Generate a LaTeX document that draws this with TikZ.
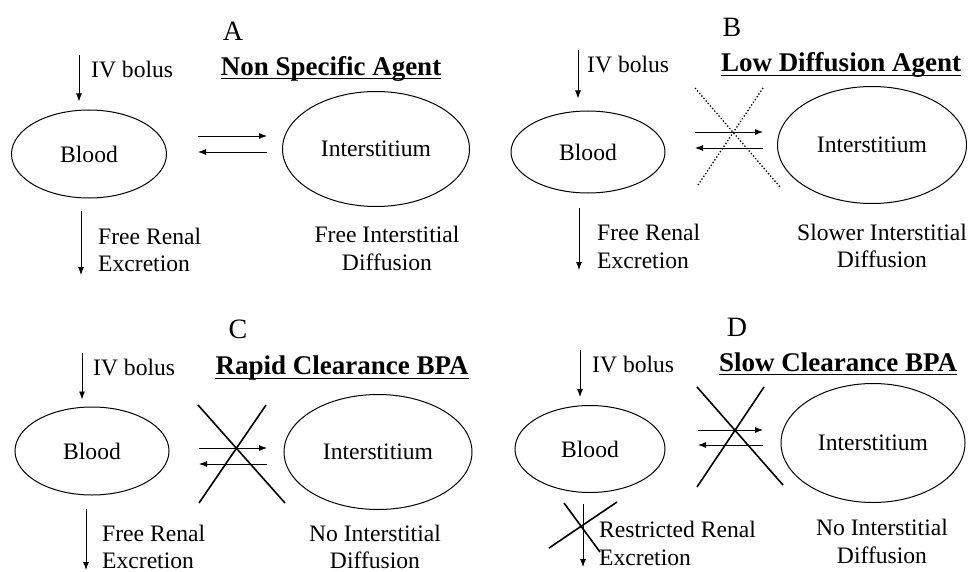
\documentclass[tikz,border=0pt]{standalone}
\usepackage{fontspec}
\setmainfont{Liberation Serif}
\usetikzlibrary{shapes.geometric,arrows.meta}

\tikzset{
  comp/.style={draw, ellipse, line width=1pt, inner sep=0pt, font=\fontsize{23.6}{27}\selectfont},
  lbl/.style={inner sep=0pt, font=\fontsize{23.6}{27}\selectfont},
  ttl/.style={inner sep=0pt, anchor=base, font=\bfseries\fontsize{27}{30}\selectfont},
  letter/.style={inner sep=0pt, font=\fontsize{28}{30}\selectfont},
  arr/.style={line width=0.9pt, -{Latex[length=8pt,width=6pt]}},
  ulin/.style={line width=1pt},
  cross/.style={line width=1.6pt},
  dotcross/.style={line width=1.3pt, dotted}
}

\begin{document}
\begin{tikzpicture}[x=1pt,y=-1pt]
  \useasboundingbox (0,0) rectangle (973,572);

  % A: non specific agent
  \node[letter] (aLetter) at (233,31) {A};
  \node[ttl] (aTitle) at (331,76) {Non Specific Agent};
  \draw[ulin] ([yshift=-3pt]aTitle.base west) -- ([yshift=-3pt]aTitle.base east);
  \node[comp, minimum width=155pt, minimum height=88pt] (aBlood) at (89,154) {Blood};
  \node[comp, minimum width=187pt, minimum height=115pt] (aInter) at (376,149) {Interstitium};
  \node[lbl, anchor=base west] (aIVtxt) at (91,78) {IV bolus};
  \coordinate (aIV) at (79,55);
  \draw[arr, shorten >=8pt] (aIV) -- (aIV |- aBlood.north);
  \coordinate (aFwdS) at (198,136); \coordinate (aFwdE) at (267,136);
  \coordinate (aBckS) at (267,152); \coordinate (aBckE) at (198,152);
  \draw[arr] (aFwdS) -- (aFwdE);
  \draw[arr] (aBckS) -- (aBckE);
  \coordinate (aOut) at (81,275);
  \draw[arr] ([xshift=-8pt,yshift=-12pt]aBlood.south) -- (aOut);
  \node[lbl, anchor=base west] (aRenal) at (98,244) {Free Renal};
  \node[lbl, anchor=base west] (aExcr) at (98,271) {Excretion};
  \node[lbl, anchor=base] (aFree) at (387,242) {Free Interstitial};
  \node[lbl, anchor=base] (aDiff) at (387,270) {Diffusion};

  % B: low diffusion agent
  \node[letter] (bLetter) at (732,27) {B};
  \node[ttl] (bTitle) at (841,72) {Low Diffusion Agent};
  \draw[ulin] ([yshift=-4pt]bTitle.base west) -- ([yshift=-4pt]bTitle.base east);
  \node[comp, minimum width=154pt, minimum height=82pt] (bBlood) at (588,152) {Blood};
  \node[comp, minimum width=189pt, minimum height=117pt] (bInter) at (872,145) {Interstitium};
  \node[lbl, anchor=base west] (bIVtxt) at (587,73) {IV bolus};
  \coordinate (bIV) at (578,50);
  \draw[arr, shorten >=12pt] (bIV) -- (bIV |- bBlood.north);
  \coordinate (bFwdS) at (695,132); \coordinate (bFwdE) at (763,132);
  \coordinate (bBckS) at (763,148); \coordinate (bBckE) at (695,148);
  \draw[arr] (bFwdS) -- (bFwdE);
  \draw[arr] (bBckS) -- (bBckE);
  \coordinate (bX1) at (695,88); \coordinate (bX2) at (780,187);
  \coordinate (bX3) at (763,88); \coordinate (bX4) at (698,185);
  \draw[dotcross] (bX1) -- (bX2);
  \draw[dotcross] (bX3) -- (bX4);
  \coordinate (bOut) at (579,270);
  \draw[arr] ([xshift=-9pt,yshift=-14pt]bBlood.south) -- (bOut);
  \node[lbl, anchor=base west] (bRenal) at (597,240) {Free Renal};
  \node[lbl, anchor=base west] (bExcr) at (597,268) {Excretion};
  \node[lbl, anchor=base] (bSlow) at (882,240) {Slower Interstitial};
  \node[lbl, anchor=base] (bDiff) at (882,267) {Diffusion};

  % C: rapid clearance BPA
  \node[letter] (cLetter) at (238,329) {C};
  \node[ttl] (cTitle) at (342,374) {Rapid Clearance BPA};
  \draw[ulin] ([yshift=-4pt]cTitle.base west) -- ([yshift=-4pt]cTitle.base east);
  \node[comp, minimum width=154pt, minimum height=88pt] (cBlood) at (92,451) {Blood};
  \node[comp, minimum width=188pt, minimum height=115pt] (cInter) at (378,452) {Interstitium};
  \node[lbl, anchor=base west] (cIVtxt) at (93,375) {IV bolus};
  \coordinate (cIV) at (82,353);
  \draw[arr, shorten >=7pt] (cIV) -- (cIV |- cBlood.north);
  \coordinate (cFwdS) at (199,448); \coordinate (cFwdE) at (267,448);
  \coordinate (cBckS) at (267,464); \coordinate (cBckE) at (199,464);
  \draw[arr] (cFwdS) -- (cFwdE);
  \draw[arr] (cBckS) -- (cBckE);
  \coordinate (cX1) at (198,405); \coordinate (cX2) at (285,503);
  \coordinate (cX3) at (266,405); \coordinate (cX4) at (199,503);
  \draw[cross] (cX1) -- (cX2);
  \draw[cross] (cX3) -- (cX4);
  \coordinate (cOut) at (86,570);
  \draw[arr] ([xshift=-6pt,yshift=-13pt]cBlood.south) -- (cOut);
  \node[lbl, anchor=base west] (cRenal) at (102,541) {Free Renal};
  \node[lbl, anchor=base west] (cExcr) at (102,568) {Excretion};
  \node[lbl, anchor=base] (cNo) at (375,541) {No Interstitial};
  \node[lbl, anchor=base] (cDiff) at (375,568) {Diffusion};

  % D: slow clearance BPA
  \node[letter] (dLetter) at (737,327) {D};
  \node[ttl] (dTitle) at (838,371) {Slow Clearance BPA};
  \draw[ulin] ([yshift=-3pt]dTitle.base west) -- ([yshift=-3pt]dTitle.base east);
  \node[comp, minimum width=150pt, minimum height=87pt] (dBlood) at (590,449) {Blood};
  \node[comp, minimum width=184pt, minimum height=119pt] (dInter) at (873,443) {Interstitium};
  \node[lbl, anchor=base west] (dIVtxt) at (592,372) {IV bolus};
  \coordinate (dIV) at (580,350);
  \draw[arr, shorten >=8pt] (dIV) -- (dIV |- dBlood.north);
  \coordinate (dFwdS) at (698,430); \coordinate (dFwdE) at (763,430);
  \coordinate (dBckS) at (763,445); \coordinate (dBckE) at (698,445);
  \draw[arr] (dFwdS) -- (dFwdE);
  \draw[arr] (dBckS) -- (dBckE);
  \coordinate (dX1) at (697,387); \coordinate (dX2) at (783,485);
  \coordinate (dX3) at (764,387); \coordinate (dX4) at (697,487);
  \draw[cross] (dX1) -- (dX2);
  \draw[cross] (dX3) -- (dX4);
  \coordinate (dOut) at (583,567);
  \draw[arr] ([xshift=-7pt,yshift=-11pt]dBlood.south) -- (dOut);
  \coordinate (dY1) at (564,503); \coordinate (dY2) at (600,552);
  \coordinate (dY3) at (617,502); \coordinate (dY4) at (549,548);
  \draw[cross] (dY1) -- (dY2);
  \draw[cross] (dY3) -- (dY4);
  \node[lbl, anchor=base west] (dRenal) at (599,537) {Restricted Renal};
  \node[lbl, anchor=base west] (dExcr) at (599,565) {Excretion};
  \node[lbl, anchor=base] (dNo) at (882,535) {No Interstitial};
  \node[lbl, anchor=base] (dDiff) at (882,563) {Diffusion};
\end{tikzpicture}
\end{document}
